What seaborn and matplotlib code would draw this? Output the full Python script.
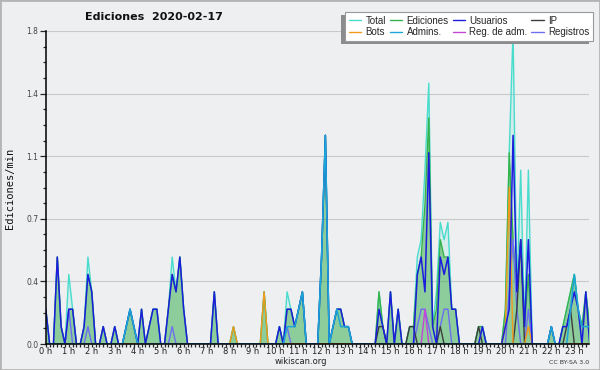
import matplotlib
matplotlib.use("Agg")
import numpy as np
import pandas as pd
import matplotlib.pyplot as plt
import seaborn as sns
from matplotlib.patches import Rectangle
from matplotlib.lines import Line2D
from matplotlib.ticker import FixedLocator, MultipleLocator, FuncFormatter

# ---- data: edits per minute, one value per 10-minute slot (0:00 .. 23:50) ----
total = [
    .2, 0, 0, .5, .1, 0, .4, .2, 0, 0, .1, .5,
    .3, 0, 0, .1, 0, 0, .1, 0, 0, .1, .2, .1,
    0, .2, 0, .1, .2, .2, 0, 0, .2, .5, .3, .5,
    .2, 0, 0, 0, 0, 0, 0, 0, .3, 0, 0, 0,
    0, .1, 0, 0, 0, 0, 0, 0, 0, .3, 0, 0,
    0, .1, 0, .3, .2, .1, .2, .3, 0, 0, 0, 0,
    .5, 1.2, 0, .1, .2, .2, .1, .1, 0, 0, 0, 0,
    0, 0, 0, .3, .1, 0, .3, 0, .2, 0, 0, .1,
    .1, .5, .6, 1.0, 1.5, .1, .3, .7, .6, .7, .2, .2,
    0, 0, 0, 0, 0, .1, .1, 0, 0, 0, 0, 0,
    .2, 1.1, 1.8, .3, 1.0, .1, 1.0, 0, 0, 0, 0, 0,
    .1, 0, 0, .1, .2, .3, .4, .2, .1, .3, .1, 0,
]
ediciones = [
    .2, 0, 0, .5, .1, 0, .2, .2, 0, 0, .1, .4,
    .3, 0, 0, .1, 0, 0, .1, 0, 0, .1, .2, .1,
    0, .2, 0, .1, .2, .2, 0, 0, .2, .4, .3, .5,
    .2, 0, 0, 0, 0, 0, 0, 0, .3, 0, 0, 0,
    0, .1, 0, 0, 0, 0, 0, 0, 0, .3, 0, 0,
    0, .1, 0, .2, .2, .1, .2, .3, 0, 0, 0, 0,
    .5, 1.2, 0, .1, .2, .2, .1, .1, 0, 0, 0, 0,
    0, 0, 0, .3, .1, 0, .3, 0, .2, 0, 0, .1,
    .1, .4, .5, .8, 1.3, .1, .2, .6, .5, .5, .2, .2,
    0, 0, 0, 0, 0, .1, .1, 0, 0, 0, 0, 0,
    .2, 1.1, .6, .3, .6, .1, .4, 0, 0, 0, 0, 0,
    .1, 0, 0, .1, .2, .3, .4, .2, .1, .3, .1, 0,
]
usuarios = [
    .2, 0, 0, .5, .1, 0, .2, .2, 0, 0, .1, .4,
    .3, 0, 0, .1, 0, 0, .1, 0, 0, .1, .2, .1,
    0, .2, 0, .1, .2, .2, 0, 0, .2, .4, .3, .5,
    .2, 0, 0, 0, 0, 0, 0, 0, .3, 0, 0, 0,
    0, 0, 0, 0, 0, 0, 0, 0, 0, 0, 0, 0,
    0, .1, 0, .2, .2, .1, .2, .3, 0, 0, 0, 0,
    .5, 1.2, 0, .1, .2, .2, .1, .1, 0, 0, 0, 0,
    0, 0, 0, .2, .1, 0, .3, 0, .2, 0, 0, 0,
    0, .4, .5, .3, 1.1, .1, 0, .5, .4, .5, .2, .2,
    0, 0, 0, 0, 0, 0, .1, 0, 0, 0, 0, 0,
    .1, .2, 1.2, .3, .6, .1, .6, 0, 0, 0, 0, 0,
    .1, 0, 0, .1, .1, .2, .3, .2, 0, .3, 0, 0,
]
ip = [
    0, 0, 0, 0, 0, 0, 0, 0, 0, 0, 0, 0,
    0, 0, 0, 0, 0, 0, 0, 0, 0, 0, 0, 0,
    0, 0, 0, 0, 0, 0, 0, 0, 0, 0, 0, 0,
    0, 0, 0, 0, 0, 0, 0, 0, 0, 0, 0, 0,
    0, 0, 0, 0, 0, 0, 0, 0, 0, 0, 0, 0,
    0, 0, 0, 0, 0, 0, 0, 0, 0, 0, 0, 0,
    0, 0, 0, 0, 0, 0, 0, 0, 0, 0, 0, 0,
    0, 0, 0, .1, .1, 0, 0, 0, 0, 0, 0, .1,
    .1, 0, 0, 0, 0, 0, 0, .1, 0, 0, 0, 0,
    0, 0, 0, 0, 0, .1, 0, 0, 0, 0, 0, 0,
    0, 0, 0, .2, .6, 0, 0, 0, 0, 0, 0, 0,
    0, 0, 0, 0, .1, .2, 0, 0, 0, 0, 0, 0,
]
bots = [
    0, 0, 0, 0, 0, 0, 0, 0, 0, 0, 0, 0,
    0, 0, 0, 0, 0, 0, 0, 0, 0, 0, 0, 0,
    0, 0, 0, 0, 0, 0, 0, 0, 0, 0, 0, 0,
    0, 0, 0, 0, 0, 0, 0, 0, 0, 0, 0, 0,
    0, .1, 0, 0, 0, 0, 0, 0, 0, .3, 0, 0,
    0, 0, 0, 0, 0, 0, 0, 0, 0, 0, 0, 0,
    0, 0, 0, 0, 0, 0, 0, 0, 0, 0, 0, 0,
    0, 0, 0, 0, 0, 0, 0, 0, 0, 0, 0, 0,
    0, 0, 0, 0, 0, 0, 0, 0, 0, 0, 0, 0,
    0, 0, 0, 0, 0, 0, 0, 0, 0, 0, 0, 0,
    .1, .9, 0, 0, 0, 0, .1, 0, 0, 0, 0, 0,
    0, 0, 0, 0, 0, 0, 0, 0, 0, 0, 0, 0,
]
admins = [
    0, 0, 0, 0, 0, 0, 0, 0, 0, 0, 0, 0,
    0, 0, 0, 0, 0, 0, 0, 0, 0, .1, .2, .1,
    0, 0, 0, 0, 0, 0, 0, 0, 0, 0, 0, 0,
    0, 0, 0, 0, 0, 0, 0, 0, 0, 0, 0, 0,
    0, 0, 0, 0, 0, 0, 0, 0, 0, 0, 0, 0,
    0, 0, 0, .1, .1, .1, .2, .3, 0, 0, 0, 0,
    .5, 1.2, 0, .1, .2, .1, .1, .1, 0, 0, 0, 0,
    0, 0, 0, 0, 0, 0, 0, 0, 0, 0, 0, 0,
    0, 0, 0, 0, 0, 0, 0, 0, 0, 0, 0, 0,
    0, 0, 0, 0, 0, 0, 0, 0, 0, 0, 0, 0,
    0, 0, 0, 0, 0, 0, 0, 0, 0, 0, 0, 0,
    .1, 0, 0, 0, 0, .2, .4, .2, .1, .1, .1, 0,
]
reg_adm = [
    0, 0, 0, 0, 0, 0, 0, 0, 0, 0, 0, 0,
    0, 0, 0, 0, 0, 0, 0, 0, 0, 0, 0, 0,
    0, 0, 0, 0, 0, 0, 0, 0, 0, 0, 0, 0,
    0, 0, 0, 0, 0, 0, 0, 0, 0, 0, 0, 0,
    0, 0, 0, 0, 0, 0, 0, 0, 0, 0, 0, 0,
    0, 0, 0, 0, 0, 0, 0, 0, 0, 0, 0, 0,
    0, 0, 0, 0, 0, 0, 0, 0, 0, 0, 0, 0,
    0, 0, 0, 0, 0, 0, 0, 0, 0, 0, 0, 0,
    0, 0, 0, .2, 0, 0, 0, 0, 0, 0, 0, 0,
    0, 0, 0, 0, 0, 0, 0, 0, 0, 0, 0, 0,
    0, 0, 0, 0, 0, 0, 0, 0, 0, 0, 0, 0,
    0, 0, 0, 0, 0, 0, 0, 0, 0, 0, 0, 0,
]
registros = [
    0, 0, 0, 0, 0, 0, .2, 0, 0, 0, 0, .1,
    0, 0, 0, 0, 0, 0, 0, 0, 0, 0, 0, 0,
    0, 0, 0, 0, 0, 0, 0, 0, 0, .1, 0, 0,
    0, 0, 0, 0, 0, 0, 0, 0, 0, 0, 0, 0,
    0, 0, 0, 0, 0, 0, 0, 0, 0, 0, 0, 0,
    0, 0, 0, .1, 0, 0, 0, 0, 0, 0, 0, 0,
    0, 0, 0, 0, 0, 0, 0, 0, 0, 0, 0, 0,
    0, 0, 0, 0, 0, 0, 0, 0, 0, 0, 0, 0,
    0, .1, .2, .2, .1, 0, 0, .1, .2, .2, 0, 0,
    0, 0, 0, 0, 0, 0, 0, 0, 0, 0, 0, 0,
    0, .3, .6, .2, 0, 0, .2, 0, 0, 0, 0, 0,
    0, 0, 0, 0, 0, 0, 0, 0, 0, 0, 0, 0,
]
hour_labels = [f"{h} h" for h in range(24)]
y_ticks = [0.0, 0.36, 0.72, 1.08, 1.44, 1.8]

title = "Ediciones  2020-02-17"
y_label = "Ediciones/min"

hours = np.arange(len(total)) / 6.0

BG = "#eeeff1"
colors = {
    "Total": "#48dccd",
    "Ediciones": "#36b24a",
    "Usuarios": "#1c1cdc",
    "IP": "#3c3c3c",
    "Bots": "#f39a1c",
    "Admins.": "#1aa6d8",
    "Reg. de adm.": "#c545d8",
    "Registros": "#6e6ef0",
}

sns.set_style("ticks")
plt.rcParams["font.family"] = ["DejaVu Sans"]

fig = plt.figure(figsize=(6, 3.7), dpi=100, facecolor=BG)
ax = fig.add_axes([45.8 / 600, 1 - 344 / 370, (589 - 45.8) / 600, (344 - 31) / 370])
ax.set_facecolor(BG)

# fills
ax.fill_between(hours, total, color="#40e0d0", alpha=0.15, lw=0, zorder=1)
ax.fill_between(hours, ediciones, color="#2ca02c", alpha=0.42, lw=0, zorder=1.1)

draw = [
    ("Total", total, 1.0, 2.0),
    ("Ediciones", ediciones, 1.0, 2.1),
    ("Registros", registros, 1.0, 2.2),
    ("Reg. de adm.", reg_adm, 1.0, 2.3),
    ("IP", ip, 1.0, 2.4),
    ("Bots", bots, 1.0, 2.5),
    ("Usuarios", usuarios, 1.1, 2.6),
    ("Admins.", admins, 1.1, 2.7),
]
for name, vals, lw, z in draw:
    sns.lineplot(x=hours, y=vals, color=colors[name], linewidth=lw, ax=ax,
                 zorder=z, estimator=None, errorbar=None, legend=False)

ax.set_xlim(0, 141.83 / 6)
ax.set_ylim(0, 1.8)
ax.set_xlabel("")
ax.set_ylabel("")

ax.yaxis.set_major_locator(FixedLocator(y_ticks))
ax.yaxis.set_major_formatter(FuncFormatter(lambda v, p: f"{v:.1f}"))
ax.yaxis.set_minor_locator(MultipleLocator(0.09))
ax.xaxis.set_major_locator(FixedLocator(list(range(24))))
ax.set_xticklabels(hour_labels)
ax.xaxis.set_minor_locator(MultipleLocator(1 / 6))

ax.tick_params(axis="x", which="major", length=2.3, width=0.9, pad=0,
               labelsize=6, labelcolor="#222222", direction="out")
ax.tick_params(axis="x", which="minor", length=2.3, width=0.9, direction="out")
ax.tick_params(axis="y", which="major", length=4.5, width=0.9, pad=1,
               labelsize=5.5, labelcolor="#444444", direction="out")
ax.tick_params(axis="y", which="minor", length=2.2, width=0.9, direction="out")

ax.grid(False)
ax.yaxis.grid(True, color="#c9c9c9", lw=0.8, zorder=0)
ax.set_axisbelow(True)
for s in ["top", "right"]:
    ax.spines[s].set_visible(False)
for s in ["left", "bottom"]:
    ax.spines[s].set_color("black")
    ax.spines[s].set_linewidth(1.1)
    ax.spines[s].set_zorder(3)

# texts
fig.text(154 / 600, 1 - 17 / 370, title, ha="center", va="center",
         fontsize=8, fontweight="bold", color="#111111")
fig.text(10 / 600, 1 - 188 / 370, y_label, rotation=90, ha="center", va="center",
         fontsize=7.5, family="DejaVu Sans Mono", color="#111111")
fig.text(301 / 600, 1 - 362 / 370, "wikiscan.org", ha="center", va="center",
         fontsize=6, color="#222222")
fig.text(569 / 600, 1 - 362.5 / 370, "CC BY-SA 3.0", ha="center", va="center",
         fontsize=4.5, color="#333333")

# legend
order = ["Total", "Bots", "Ediciones", "Admins.", "Usuarios", "Reg. de adm.", "IP", "Registros"]
handles = [Line2D([0], [0], color=colors[n], lw=1.0) for n in order]
leg = fig.legend(handles, order, ncol=4, loc="upper right",
                 bbox_to_anchor=(593.3 / 600, 1 - 11.7 / 370), bbox_transform=fig.transFigure,
                 frameon=True, fancybox=False, edgecolor="#9a9a9a", facecolor="white",
                 framealpha=1, prop={"family": "Liberation Sans", "size": 7},
                 handlelength=1.3, handletextpad=0.43, columnspacing=0.4,
                 borderpad=0.4, labelspacing=0.15, borderaxespad=0)
leg.get_frame().set_linewidth(0.8)
leg.set_zorder(5)

fig.canvas.draw()
bb = leg.get_window_extent().transformed(fig.transFigure.inverted())
dx, dy = 4 / 600, 3 / 370
shadow = Rectangle((bb.x0 - dx, bb.y0 - dy), bb.width, bb.height, transform=fig.transFigure,
                   facecolor="#8c8c8c", edgecolor="none", zorder=4.5)
fig.patches.append(shadow)

border = Rectangle((0, 0), 1, 1, transform=fig.transFigure, fill=False,
                   edgecolor="#b4b4b4", lw=2, zorder=10)
fig.patches.append(border)

fig.savefig("out.png", dpi=100, facecolor=BG)
